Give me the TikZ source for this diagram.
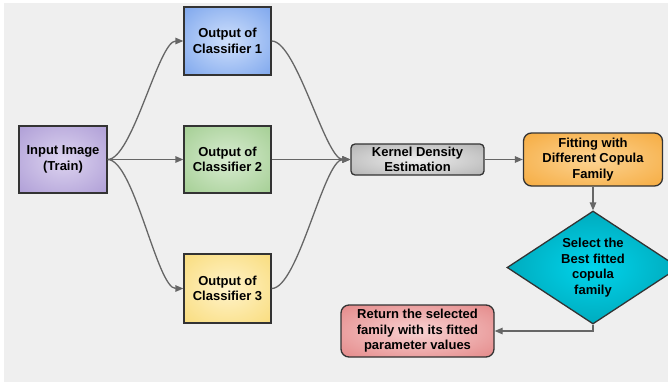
\documentclass[tikz,border=0pt]{standalone}
\usepackage{fontspec}
\setmainfont{Liberation Sans}
\usetikzlibrary{shapes.geometric,arrows.meta}
\definecolor{bgc}{HTML}{EFEFEF}
\definecolor{bordc}{HTML}{333333}
\definecolor{arrc}{HTML}{666666}
\colorlet{rin}{white}
\colorlet{rout}{gray}
\pgfdeclareradialshading[rin,rout]{soft}{\pgfpoint{0bp}{0bp}}{color(0bp)=(rin); color(52bp)=(rout); color(75bp)=(rout)}
\tikzset{
  soft/.style 2 args={/utils/exec={\definecolor{rin}{HTML}{#1}\definecolor{rout}{HTML}{#2}}, shading=soft},
  box/.style={draw=bordc, line width=1.3pt, align=center, inner sep=0pt,
    font=\bfseries\fontsize{13}{15.5}\selectfont, text=black},
  conn/.style={draw=arrc, line width=1.3pt, -{Triangle[length=8pt,width=6.5pt]}},
}
\begin{document}
\begin{tikzpicture}[x=1pt,y=-1pt]
\useasboundingbox (0,0) rectangle (668,383);
\fill[white] (0,0) rectangle (668,383);
\fill[bgc] (4,3) rectangle (668,382);

\node[box, soft={DDD4F0}{9A86CB}, minimum width=88pt, minimum height=67pt] (inp) at (63,159.5) {Input Image\\(Train)};
\node[box, soft={CFE0FC}{5A8DE6}, minimum width=87pt, minimum height=68pt] (c1) at (227.5,41) {Output of\\Classifier 1};
\node[box, soft={D8ECD1}{8DC178}, minimum width=87pt, minimum height=67pt] (c2) at (227.5,159.5) {Output of\\Classifier 2};
\node[box, soft={FFF3CA}{F6D25A}, minimum width=87pt, minimum height=69pt] (c3) at (227.5,288.5) {Output of\\Classifier 3};
\node[box, soft={EDEDED}{9A9A9A}, rounded corners=4pt, minimum width=133pt, minimum height=31pt] (kde) at (417.5,159.5) {Kernel Density\\Estimation};
\node[box, soft={FCD392}{F39A1C}, rounded corners=8pt, minimum width=139pt, minimum height=53pt] (fit) at (593,159.5) {Fitting with\\Different Copula\\Family};
\node[box, diamond, soft={00D4EC}{00808C}, minimum width=172pt, minimum height=113pt, aspect=1.52] (sel) at (593,267.5) {Select the\\Best fitted\\copula\\family};
\node[box, soft={F8D2D2}{DB6868}, rounded corners=8pt, minimum width=153pt, minimum height=52pt] (ret) at (417.5,331) {Return the selected\\family with its fitted\\parameter values};

\draw[conn] (inp.east) to[out=0,in=180,looseness=0.45] (c1.west);
\draw[conn] (inp.east) -- (c2.west);
\draw[conn] (inp.east) to[out=0,in=180,looseness=0.45] (c3.west);
\draw[conn] (c1.east) to[out=0,in=180,looseness=0.45] (kde.west);
\draw[conn] (c2.east) -- (kde.west);
\draw[conn] (c3.east) to[out=0,in=180,looseness=0.45] (kde.west);
\draw[conn] (kde.east) -- (fit.west);
\draw[conn] (fit.south) -- (sel.north);
\draw[conn] (sel.south) |- (ret.east);
\end{tikzpicture}
\end{document}
